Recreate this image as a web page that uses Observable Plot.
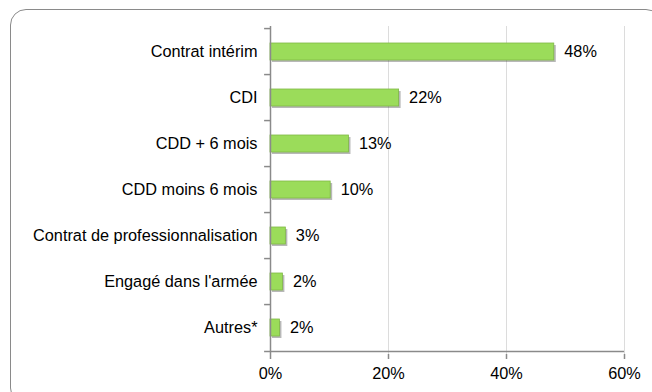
<!DOCTYPE html>
<html>
<head>
<meta charset="utf-8">
<script src="https://cdn.jsdelivr.net/npm/d3@7"></script>
<script src="https://cdn.jsdelivr.net/npm/@observablehq/plot@0.6"></script>
<style>
  html, body { margin: 0; padding: 0; background: #fff; overflow: hidden; width: 652px; height: 392px; }
  #frame { position: absolute; left: 10px; top: 9px; width: 652px; height: 395px; border: 1.5px solid #8a8a8a; border-radius: 16px; box-sizing: border-box; }
  #chart { position: absolute; left: 0; top: 0; }
</style>
</head>
<body>
<div id="frame"></div>
<div id="chart"></div>
<script>
const categories = ["Contrat intérim", "CDI", "CDD + 6 mois", "CDD moins 6 mois", "Contrat de professionnalisation", "Engagé dans l'armée", "Autres*"];
const values = [48.1, 21.8, 13.3, 10.2, 2.6, 2.1, 1.6];
const valueLabels = ["48%", "22%", "13%", "10%", "3%", "2%", "2%"];
const xTicks = [0, 20, 40, 60];

const data = categories.map((c, i) => ({category: c, value: values[i], label: valueLabels[i]}));

const W = 652, H = 392;
const mL = 270, mR = 28, mT = 26, mB = 38;
const step = (H - mT - mB) / categories.length;

const chart = Plot.plot({
  width: W,
  height: H,
  marginLeft: mL,
  marginRight: mR,
  marginTop: mT,
  marginBottom: mB,
  style: {fontFamily: "'Liberation Sans', Arial, sans-serif", fontSize: "16px", color: "#000", background: "transparent"},
  x: {domain: [0, 60], label: null},
  y: {domain: categories, paddingInner: 0.62, paddingOuter: 0.31, label: null},
  marks: [
    Plot.gridX(xTicks.filter(t => t > 0), {stroke: "#dcdcdc", strokeOpacity: 1, strokeWidth: 1}),
    Plot.barX(data, {x: "value", y: "category", fill: "#333", fillOpacity: 0.35, dx: 2, dy: 2}),
    Plot.barX(data, {x: "value", y: "category", fill: "#9bdc5a", stroke: "#7fb844", strokeWidth: 0.8}),
    Plot.text(data, {x: "value", y: "category", text: "label", textAnchor: "start", dx: 10, fill: "#000", fontSize: 16.3}),
    Plot.ruleX([0], {stroke: "#8a8a8a", strokeWidth: 1.5}),
    Plot.ruleY(categories, {y: d => d, dy: -step / 2, x1: -1, x2: 0, stroke: "#8a8a8a", strokeWidth: 1.5}),
    Plot.ruleY([categories[categories.length - 1]], {y: d => d, dy: step / 2, x1: -1, x2: 60, stroke: "#8a8a8a", strokeWidth: 1.5}),
    Plot.axisY({tickSize: 0, tickPadding: 13, fill: "#000", fontSize: 16.3}),
    Plot.axisX({ticks: xTicks, tickFormat: d => d + "%", tickSize: 5, tickPadding: 8, stroke: "#8a8a8a", strokeWidth: 1.5, fill: "#000", fontSize: 16.3})
  ]
});
document.getElementById("chart").appendChild(chart);
</script>
</body>
</html>
